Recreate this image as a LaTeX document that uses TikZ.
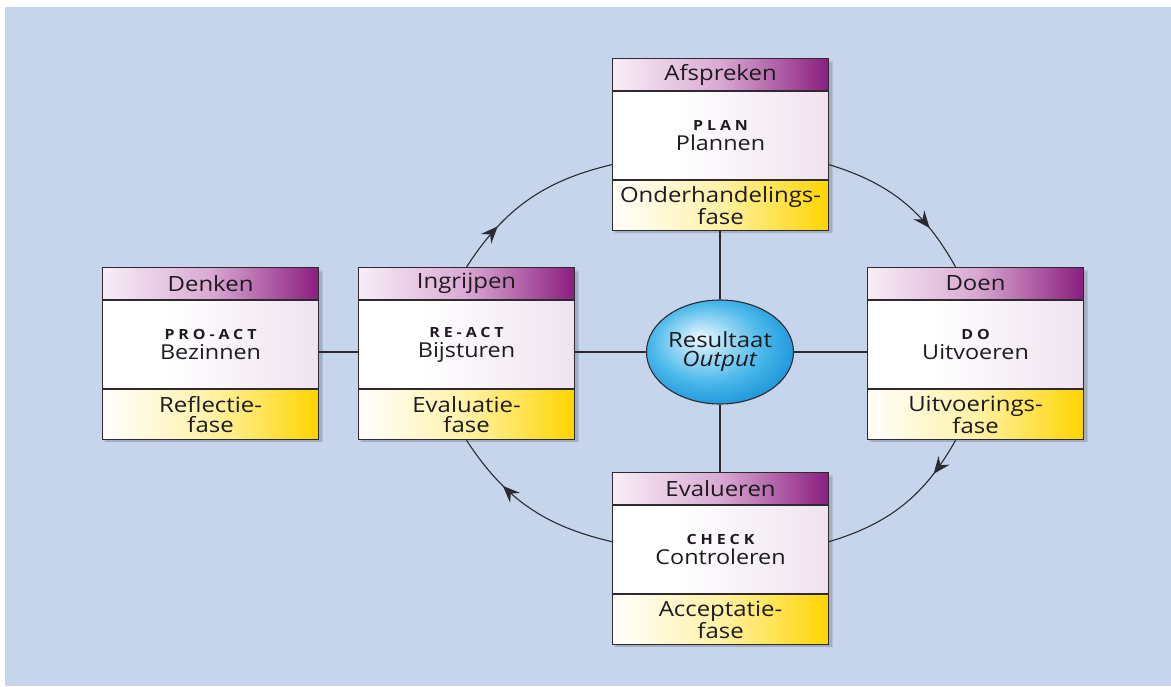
\documentclass[tikz,border=0pt]{standalone}
\usepackage{fontspec}
\setmainfont[FakeStretch=1.14]{Open Sans}
\usetikzlibrary{shapes.geometric,decorations.markings,arrows.meta}

% colours
\definecolor{bgC}{HTML}{C6D5EB}
\definecolor{frameC}{HTML}{2E2A30}
\definecolor{inkC}{HTML}{1E1A20}
\definecolor{lineC}{HTML}{2A2A30}
\definecolor{hdrA}{HTML}{F8EEF6}
\definecolor{hdrM}{HTML}{D9A9D2}
\definecolor{hdrB}{HTML}{8A1E7E}
\definecolor{bodyA}{HTML}{FFFFFF}
\definecolor{bodyB}{HTML}{EFE2EF}
\definecolor{ftA}{HTML}{FFFDF4}
\definecolor{ftM}{HTML}{FFF2A6}
\definecolor{ftB}{HTML}{FFD500}
\definecolor{orbA}{HTML}{EEF9FE}
\definecolor{orbM}{HTML}{A6DDF5}
\definecolor{orbN}{HTML}{4AB8EA}
\definecolor{orbB}{HTML}{1A94D8}

% gradients for the three bands of a phase box and for the centre
\pgfdeclarehorizontalshading{hdrshade}{100bp}{color(0bp)=(hdrA); color(25bp)=(hdrA); color(50bp)=(hdrM); color(75bp)=(hdrB); color(100bp)=(hdrB)}
\pgfdeclarehorizontalshading{bodyshade}{100bp}{color(0bp)=(bodyA); color(40bp)=(bodyA); color(75bp)=(bodyB); color(100bp)=(bodyB)}
\pgfdeclarehorizontalshading{footshade}{100bp}{color(0bp)=(ftA); color(28bp)=(ftA); color(50bp)=(ftM); color(75bp)=(ftB); color(100bp)=(ftB)}
\pgfdeclareradialshading{orbshade}{\pgfpoint{-7bp}{7bp}}{color(0bp)=(orbA); color(8bp)=(orbM); color(19bp)=(orbN); color(30bp)=(orbB); color(50bp)=(orbB)}

% text sizes
\newcommand\phHead{\fontsize{21}{22}\selectfont}
\newcommand\phKey{\fontsize{14}{14}\selectfont\bfseries\addfontfeature{LetterSpace=28}}
\newcommand\phVerb{\fontsize{20.5}{20}\selectfont}
\newcommand\phFoot{\fontsize{21}{20}\selectfont}
\newcommand\phOrb{\fontsize{21}{19}\selectfont}

\tikzset{
  x=1pt, y=-1pt,
  part/.style={draw=frameC, line width=1.1pt, minimum width=216pt, inner sep=0pt,
               align=center, text=inkC, anchor=north west, shade},
  headbox/.style={part, minimum height=32pt, shading=hdrshade, font=\phHead},
  bodybox/.style={part, minimum height=88pt, shading=bodyshade, font=\phVerb},
  footbox/.style={part, minimum height=50pt, shading=footshade, font=\phFoot},
  boxshadow/.style={fill=black, opacity=0.09},
  orb/.style={ellipse, draw=frameC, line width=1.1pt, minimum width=136pt,
              minimum height=104pt, inner sep=0pt, shade, shading=orbshade,
              align=center, text=inkC, font=\phOrb},
  link/.style={draw=lineC, line width=1.1pt},
  cycle arrow/.style={link, postaction={decorate}, decoration={markings,
      mark=at position #1 with {\arrow{Stealth[length=17pt,width=14pt,inset=6pt]}}}},
}

% a phase box: name, left x, top y, header, keyword, verb, footer line 1, footer line 2
\newcommand\phasebox[8]{%
  \fill[boxshadow] ({#2+2},{#3+3}) rectangle ++(219,172);
  \fill[boxshadow] ({#2+4},{#3+5}) rectangle ++(216,170);
  \node[headbox] (#1-h) at (#2,#3) {#4};
  \node[bodybox] (#1-b) at (#1-h.south west) {{\phKey #5}\\#6};
  \node[footbox] (#1-f) at (#1-b.south west) {#7\\#8};
}

\begin{document}
\begin{tikzpicture}
\useasboundingbox (0,0) rectangle (1171,686);
\fill[bgC] (5,7) rectangle (1171,686);

\phasebox{denken}{102}{267}{Denken}{PRO-ACT}{Bezinnen}{Reflectie-}{fase}
\phasebox{ingrijpen}{358}{267}{Ingrijpen}{RE-ACT}{Bijsturen}{Evaluatie-}{fase}
\phasebox{plan}{612}{58}{Afspreken}{PLAN}{Plannen}{Onderhandelings-}{fase}
\phasebox{doen}{867}{267}{Doen}{DO}{Uitvoeren}{Uitvoerings-}{fase}
\phasebox{check}{612}{472}{Evalueren}{CHECK}{Controleren}{Acceptatie-}{fase}

\node[orb] (res) at (720,352) {Resultaat\\\textit{Output}};

% spokes
\draw[link] (denken-b.east |- res) -- (ingrijpen-b.west |- res);
\draw[link] (ingrijpen-b.east |- res) -- (res.west);
\draw[link] (res.east) -- (doen-b.west |- res);
\draw[link] (res.north) -- (res.north |- plan-f.south);
\draw[link] (res.south) -- (res.south |- check-h.north);

% the cycle
\draw[cycle arrow=0.72] ([yshift=-29pt]plan-b.east) to[bend left=22] ([xshift=-20pt]doen-h.north);
\draw[cycle arrow=0.24] ([xshift=-20pt]doen-f.south) to[bend left=22] ([yshift=8pt]check-b.east);
\draw[cycle arrow=0.68] ([yshift=8pt]check-b.west) to[bend left=22] (ingrijpen-f.south);
\draw[cycle arrow=0.28] (ingrijpen-h.north) to[bend left=22] ([yshift=-29pt]plan-b.west);
\end{tikzpicture}
\end{document}
